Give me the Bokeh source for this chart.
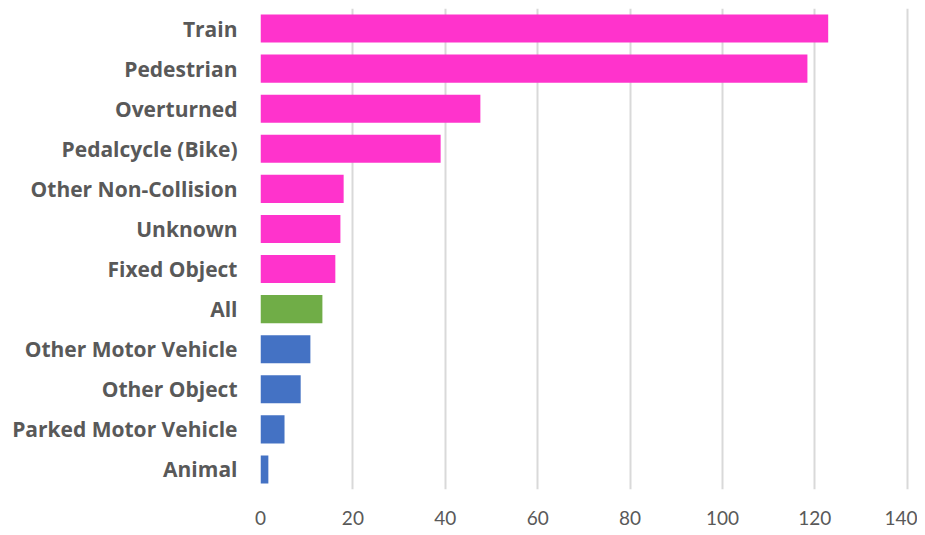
from bokeh.plotting import figure
from bokeh.models import ColumnDataSource, FactorRange, Range1d, FixedTicker
from bokeh.embed import file_html
from bokeh.resources import INLINE

categories = ["Train", "Pedestrian", "Overturned", "Pedalcycle (Bike)", "Other Non-Collision",
              "Unknown", "Fixed Object", "All", "Other Motor Vehicle", "Other Object",
              "Parked Motor Vehicle", "Animal"]
values = [122.9, 118.4, 47.6, 39.0, 18.0, 17.3, 16.2, 13.4, 10.8, 8.7, 5.2, 1.7]
groups = ["above", "above", "above", "above", "above", "above", "above",
          "all", "below", "below", "below", "below"]
x_ticks = [0, 20, 40, 60, 80, 100, 120, 140]

palette = {"above": "#FF33CC", "all": "#70AD47", "below": "#4472C4"}
colors = [palette[g] for g in groups]

source = ColumnDataSource(dict(cat=categories, val=values, color=colors))

p = figure(width=917, height=527, output_backend="svg", toolbar_location=None,
           y_range=FactorRange(*reversed(categories), range_padding=0),
           x_range=Range1d(0, 140.5),
           min_border_left=260, min_border_right=8, min_border_top=8, min_border_bottom=36)
p.outline_line_color = None
p.background_fill_color = "white"

p.hbar(y="cat", right="val", left=0, height=0.7, color="color", line_color=None, source=source)

p.xgrid.ticker = FixedTicker(ticks=x_ticks)
p.xgrid.grid_line_color = "#d9d9d9"
p.xgrid.grid_line_width = 2
p.ygrid.grid_line_color = None

p.xaxis.ticker = FixedTicker(ticks=x_ticks)
p.xaxis.axis_line_color = None
p.xaxis.major_tick_line_color = None
p.xaxis.minor_tick_line_color = None
p.xaxis.major_label_text_font = "Lato"
p.xaxis.major_label_text_font_size = "19px"
p.xaxis.major_label_text_color = "#595959"
p.xaxis.major_label_standoff = 15

p.yaxis.axis_line_color = None
p.yaxis.major_tick_line_color = None
p.yaxis.minor_tick_line_color = None
p.yaxis.major_label_text_font = "Open Sans"
p.yaxis.major_label_text_font_style = "bold"
p.yaxis.major_label_text_font_size = "21px"
p.yaxis.major_label_text_color = "#595959"
p.yaxis.major_label_standoff = 17

open("out.html", "w").write(file_html(p, INLINE))
